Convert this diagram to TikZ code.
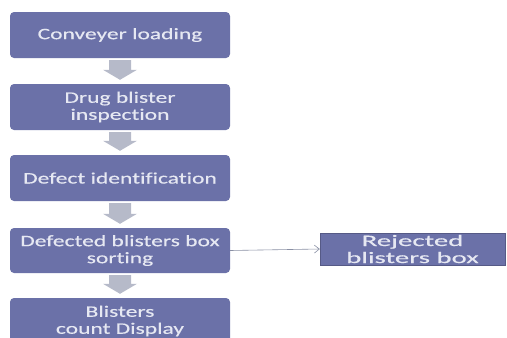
\documentclass[tikz,border=0pt]{standalone}
\usepackage{fontspec}
\usetikzlibrary{calc,arrows.meta}
\newfontfamily\boxfont[FakeStretch=1.47,FakeBold=0.4,Ligatures=NoCommon]{Carlito}
\newfontfamily\rejfont[FakeStretch=1.8,FakeBold=0.4,Ligatures=NoCommon]{Carlito}
\definecolor{boxfill}{HTML}{6B71A8}
\definecolor{boxtext}{HTML}{E6E8F2}
\definecolor{arrowfill}{HTML}{B6BAC9}
\definecolor{linecol}{HTML}{8A90A4}
\begin{document}
\begin{tikzpicture}[x=1pt,y=-1pt,
  flowbox/.style={fill=boxfill, rounded corners=4pt, minimum width=220pt, minimum height=46pt,
    text=boxtext, font=\boxfont\fontsize{16}{17}\selectfont, align=center, inner sep=0pt},
  rejbox/.style={fill=boxfill, draw=boxfill!80!black, line width=0.4pt, minimum width=185pt, minimum height=32pt,
    text=boxtext, font=\rejfont\fontsize{16}{17}\selectfont, align=center, inner sep=0pt},
  blk/.style={fill=arrowfill},
  conn/.style={draw=linecol, line width=0.6pt, -{Straight Barb[length=5pt,width=8pt]}}]
\useasboundingbox (0,0) rectangle (507,338);
\begin{scope}
\clip (0,0) rectangle (507,338);
\node[flowbox] (b1) at (120,35) {Conveyer loading};
\node[flowbox] (b2) at (120,107) {Drug blister\\inspection};
\node[flowbox] (b3) at (120,178) {Defect identification};
\node[flowbox, minimum height=45pt] (b4) at (120,250.5) {Defected blisters box\\sorting};
\node[flowbox] (b5) at (120,321) {Blisters\\count Display};
\node[rejbox] (rej) at (412.5,249) {Rejected\\blisters box};
\foreach \a/\b in {b1/b2,b2/b3,b3/b4,b4/b5}{
  \fill[blk] ($(\a.south)+(-11,2)$) -- ($(\b.north)+(-11,-14)$) -- ($(\b.north)+(-17,-14)$)
    -- ($(\b.north)+(0,-4)$) -- ($(\b.north)+(17,-14)$) -- ($(\b.north)+(11,-14)$)
    -- ($(\a.south)+(11,2)$) -- cycle;
}
\draw[conn] (b4.east) -- (rej.west);
\end{scope}
\end{tikzpicture}
\end{document}
